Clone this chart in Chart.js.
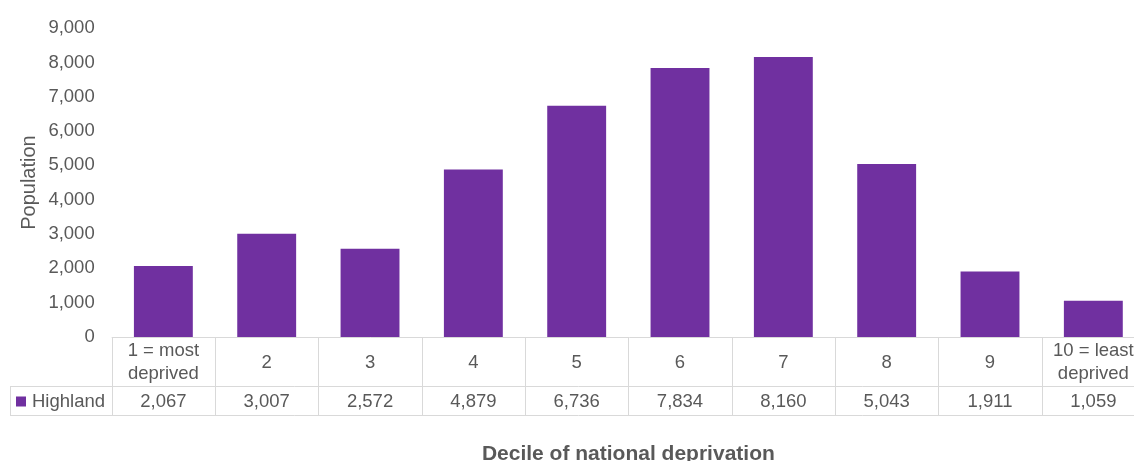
<!DOCTYPE html>
<html>
<head>
<meta charset="utf-8">
<script src="https://cdn.jsdelivr.net/npm/chart.js@4"></script>
<style>
  html, body { margin: 0; padding: 0; background: #ffffff; overflow: hidden; }
  #wrap { width: 1146px; height: 461px; }
</style>
</head>
<body>
<div id="wrap"><canvas id="c" width="1146" height="461"></canvas></div>
<script>
// ---- Data ----
const categories = [["1 = most", "deprived"], ["2"], ["3"], ["4"], ["5"], ["6"], ["7"], ["8"], ["9"], ["10 = least", "deprived"]];
const seriesName = "Highland";
const highland = [2067, 3007, 2572, 4879, 6736, 7834, 8160, 5043, 1911, 1059];
const yTicks = [0, 1000, 2000, 3000, 4000, 5000, 6000, 7000, 8000, 9000];
const xTitle = "Decile of national deprivation";
const yTitle = "Population";

const TEXT = "#595959";
const BAR = "#7030A0";
const BORDER = "#D9D9D9";
const FONT = "'Liberation Sans', Arial, sans-serif";

const fmt = v => v.toLocaleString('en-US');

const dataTablePlugin = {
  id: 'dataTable',
  afterDraw(chart) {
    const ctx = chart.ctx;
    const x = chart.scales.x;
    const area = chart.chartArea;
    const n = categories.length;
    const w = (area.right - area.left) / n;
    const top = area.bottom;
    const mid = top + 49;
    const bot = mid + 29;
    const legendLeft = 10;
    ctx.save();
    ctx.strokeStyle = BORDER;
    ctx.lineWidth = 1;
    ctx.beginPath();
    ctx.moveTo(area.left, top + 0.5); ctx.lineTo(area.right + 2, top + 0.5);
    ctx.moveTo(legendLeft, mid + 0.5); ctx.lineTo(area.right + 2, mid + 0.5);
    ctx.moveTo(legendLeft, bot + 0.5); ctx.lineTo(area.right + 2, bot + 0.5);
    for (let i = 0; i <= n; i++) {
      const bx = Math.round(area.left + i * w) + 0.5;
      ctx.moveTo(bx, top); ctx.lineTo(bx, bot);
    }
    ctx.moveTo(legendLeft + 0.5, mid); ctx.lineTo(legendLeft + 0.5, bot);
    ctx.stroke();

    ctx.fillStyle = TEXT;
    ctx.font = "18.5px " + FONT;
    ctx.textAlign = 'center';
    ctx.textBaseline = 'middle';
    const cy = (top + mid) / 2 + 1;
    const lh = 23;
    categories.forEach((lines, i) => {
      const cx = x.getPixelForValue(i);
      const y0 = cy - (lines.length - 1) * lh / 2;
      lines.forEach((t, j) => ctx.fillText(t, cx, y0 + j * lh));
    });
    const vy = (mid + bot) / 2 + 1;
    highland.forEach((v, i) => {
      ctx.fillText(fmt(v), x.getPixelForValue(i), vy);
    });
    // legend key
    ctx.fillStyle = BAR;
    ctx.fillRect(16, vy - 5, 10, 10);
    ctx.fillStyle = TEXT;
    ctx.textAlign = 'left';
    ctx.fillText(seriesName, 32, vy);
    ctx.restore();
  }
};

new Chart(document.getElementById('c'), {
  type: 'bar',
  data: {
    labels: categories.map(l => l.join(' ')),
    datasets: [{
      label: seriesName,
      data: highland,
      backgroundColor: BAR,
      borderWidth: 0,
      barPercentage: 0.57,
      categoryPercentage: 1.0
    }]
  },
  options: {
    responsive: false,
    animation: false,
    devicePixelRatio: 1,
    layout: { padding: { top: 27, right: 1, bottom: 0, left: 0 } },
    plugins: { legend: { display: false }, tooltip: { enabled: false } },
    scales: {
      x: {
        grid: { display: false, drawTicks: false },
        border: { display: false },
        ticks: { display: false },
        title: {
          display: true, text: xTitle, color: TEXT,
          font: { family: FONT, size: 21, weight: 'bold', lineHeight: 0.67 },
          padding: { top: 0, bottom: 0 }
        },
        afterFit(scale) { scale.height = 124; }
      },
      y: {
        min: 0, max: 9000,
        afterBuildTicks(scale) { scale.ticks = yTicks.map(v => ({ value: v })); },
        grid: { display: false, drawTicks: false },
        border: { display: false },
        ticks: {
          color: TEXT, padding: 17,
          font: { family: FONT, size: 18.5 },
          callback: v => fmt(v)
        },
        title: {
          display: true, text: yTitle, color: TEXT,
          font: { family: FONT, size: 20, lineHeight: 1.2 },
          padding: { top: 17, bottom: 0 }
        },
        afterFit(scale) { scale.width = 111.7; }
      }
    }
  },
  plugins: [dataTablePlugin]
});
</script>
</body>
</html>
